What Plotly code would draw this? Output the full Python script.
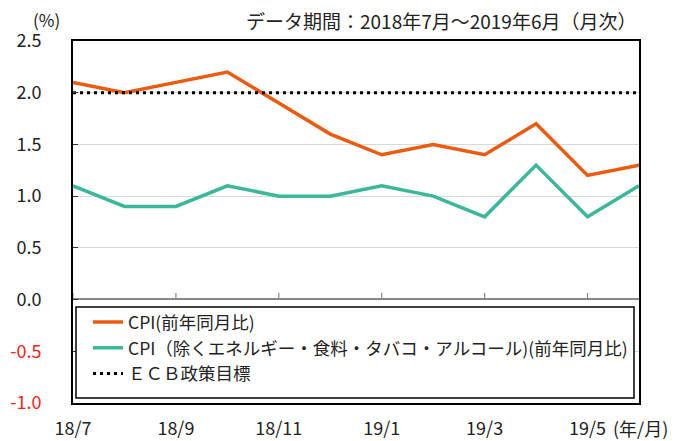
import plotly.graph_objects as go

months = ["18/7", "18/8", "18/9", "18/10", "18/11", "18/12",
          "19/1", "19/2", "19/3", "19/4", "19/5", "19/6"]
cpi = [2.1, 2.0, 2.1, 2.2, 1.9, 1.6, 1.4, 1.5, 1.4, 1.7, 1.2, 1.3]
core = [1.1, 0.9, 0.9, 1.1, 1.0, 1.0, 1.1, 1.0, 0.8, 1.3, 0.8, 1.1]
ecb = [2.0] * 12
xtick_idx = [0, 2, 4, 6, 8, 10]
ytick_vals = [2.5, 2.0, 1.5, 1.0, 0.5, 0.0, -0.5, -1.0]

names = ["CPI(前年同月比)",
         "CPI（除くエネルギー・食料・タバコ・アルコール)(前年同月比)",
         "ＥＣＢ政策目標"]

FONT = "Noto Sans CJK JP"
x = list(range(len(months)))

fig = go.Figure()
fig.add_trace(go.Scatter(x=x, y=cpi, mode="lines", name=names[0],
                         line=dict(color="#EC5A0E", width=3.5), legendgroup="a"))
fig.add_trace(go.Scatter(x=x, y=core, mode="lines", name=names[1],
                         line=dict(color="#3BB89A", width=3.5), legendgroup="b"))
fig.add_trace(go.Scatter(x=x, y=ecb, mode="lines", name=names[2],
                         line=dict(color="#000000", width=3, dash="3px,4px"), legendgroup="c"))
fig.add_trace(go.Scatter(x=[None], y=[None], xaxis="x2", showlegend=False, hoverinfo="skip"))

ytext = []
for v in ytick_vals:
    s = f"{v:.1f}"
    if v < 0:
        s = f'<span style="color:#FF2020">{s}</span>'
    ytext.append(s)

# page body has an 8px margin; plot area target: x 73..639, y 41..403 in the window
fig.update_layout(
    width=683, height=433,
    margin=dict(l=65, r=52, t=33, b=38),
    paper_bgcolor="white", plot_bgcolor="white",
    font=dict(family=FONT, size=18, color="#222222"),
    xaxis=dict(range=[0, 11], tickvals=xtick_idx,
               ticktext=[months[i] for i in xtick_idx],
               showgrid=False, zeroline=False, ticks="", automargin=False,
               showline=True, linecolor="black", linewidth=1.5, mirror=True,
               ticklabelstandoff=9, tickfont=dict(size=18)),
    xaxis2=dict(range=[0, 11], overlaying="x", anchor="free", position=(403 - 299) / 362,
                tickvals=list(range(0, 12)), ticks="", showticklabels=False,
                showgrid=False, zeroline=False, showline=True, automargin=False,
                linecolor="#888888", linewidth=1.5),
    yaxis=dict(range=[-1, 2.5], tickvals=ytick_vals, ticktext=ytext,
               showgrid=True, gridcolor="#D9D9D9", gridwidth=1, automargin=False,
               zeroline=False, ticks="inside", ticklen=5, tickcolor="#333333",
               showline=True, linecolor="black", linewidth=2, mirror=True,
               ticklabelstandoff=26, tickfont=dict(size=18)),
    legend=dict(x=(88 - 73) / 566, y=0.273, xanchor="left", yanchor="top",
                bgcolor="rgba(0,0,0,0)", borderwidth=0,
                font=dict(size=17.5), tracegroupgap=19, traceorder="normal"),
    shapes=[
        dict(type="rect", xref="paper", yref="paper",
             x0=3 / 566, x1=(634 - 73) / 566, y0=5 / 362, y1=(403 - 307) / 362,
             line=dict(color="black", width=1.5), fillcolor="white", layer="above"),
    ] + [
        dict(type="line", xref="x", yref="paper", x0=i, x1=i,
             y0=(403 - 299) / 362, y1=(403 - 293) / 362,
             line=dict(color="#888888", width=1.2))
        for i in xtick_idx
    ],
    annotations=[
        dict(text="(%)", xref="paper", yref="paper", x=(46 - 73) / 566, y=1 + (41 - 20) / 362,
             showarrow=False, xanchor="center", yanchor="middle", font=dict(size=17)),
        dict(text="データ期間：2018年7月～2019年6月（月次）", xref="paper", yref="paper",
             x=(638 - 73) / 566, y=1 + (41 - 21) / 362, showarrow=False,
             xanchor="right", yanchor="middle", font=dict(size=19)),
        dict(text="(年/月)", xref="paper", yref="paper",
             x=(611 - 73) / 566, y=-(428 - 403) / 362, showarrow=False,
             xanchor="left", yanchor="middle", font=dict(size=18)),
    ],
)

fig.write_html("out.html")
